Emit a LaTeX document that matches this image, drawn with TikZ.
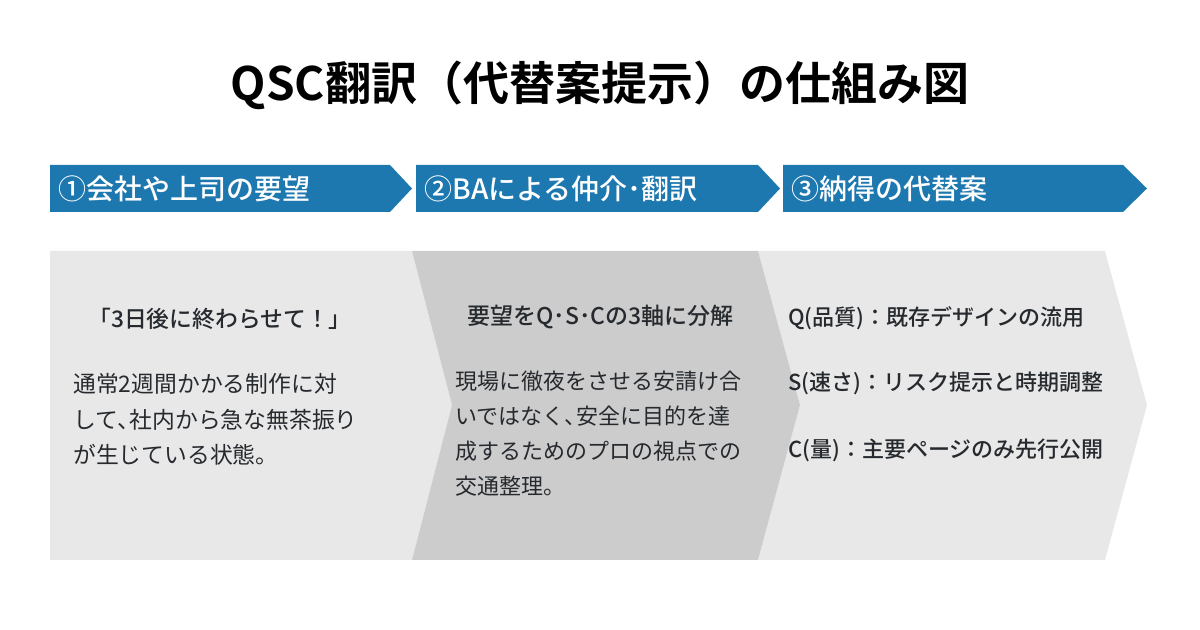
\documentclass[tikz,border=0pt]{standalone}
\usepackage{fontspec}
\usepackage{tikz}
\usetikzlibrary{calc,math}
\newfontfamily\jp{Noto Sans CJK JP}
\newfontfamily\jpmed{Noto Sans CJK JP Medium}
\newfontfamily\jpbold{Noto Sans CJK JP Bold}
\definecolor{stepblue}{RGB}{30,120,176}
\definecolor{panellight}{RGB}{232,232,232}
\definecolor{paneldark}{RGB}{204,204,204}
\definecolor{txtdark}{RGB}{38,42,46}
%narrow comma
\newcommand{\tcomma}{、\hspace{-0.45em}}

\begin{document}
\begin{tikzpicture}
[x=0.5pt,y=-0.5pt,
head/.style={anchor=west,inner sep=0pt,text=white,font=\jpmed\fontsize{14}{16}\selectfont},
lead/.style={anchor=west,inner sep=0pt,text=txtdark,font=\jpmed\fontsize{11}{13}\selectfont},
body/.style={anchor=north west,inner sep=0pt,align=left,text=txtdark,font=\jp\fontsize{11}{17.5}\selectfont},]

\useasboundingbox (0,0) rectangle (1200,630);

%Header arrow: top, bottom, middle of the tips
\tikzmath{\hdtop = 165; \hdbot = 212; \hdmid = 188.5; }
%Panels: top, bottom, middle
\tikzmath{\pntop = 251; \pnbot = 560; \pnmid = 405; }

%Title
\node (title) at (600,85)[inner sep=0pt,font=\jpbold\fontsize{23}{28}\selectfont] {QSC翻訳（代替案提示）の仕組み図};

%Header arrows
\fill[stepblue] (50,\hdtop) -- (390,\hdtop) -- (412,\hdmid) -- (390,\hdbot) -- (50,\hdbot) -- cycle;
\fill[stepblue] (416,\hdtop) -- (758,\hdtop) -- (780,\hdmid) -- (758,\hdbot) -- (416,\hdbot) -- cycle;
\fill[stepblue] (783,\hdtop) -- (1123,\hdtop) -- (1147,\hdmid) -- (1123,\hdbot) -- (783,\hdbot) -- cycle;
\node (h1) at (58,\hdmid)[head] {①会社や上司の要望};
\node (h2) at (424,\hdmid)[head] {②BAによる仲介･翻訳};
\node (h3) at (791,\hdmid)[head] {③納得の代替案};

%Chevron panels
\fill[panellight] (50,\pntop) -- (412,\pntop) -- (452,\pnmid) -- (412,\pnbot) -- (50,\pnbot) -- cycle;
\fill[panellight] (758,\pntop) -- (1105,\pntop) -- (1147,\pnmid) -- (1105,\pnbot) -- (758,\pnbot) -- (800,\pnmid) -- cycle;
\fill[paneldark] (412,\pntop) -- (758,\pntop) -- (800,\pnmid) -- (758,\pnbot) -- (412,\pnbot) -- (452,\pnmid) -- cycle;

%Panel 1
\node (ask) at (88,319)[lead,font=\jpmed\fontsize{11.4}{13}\selectfont] {「3日後に終わらせて！」};
\node (askbody) at (73,373)[body,font=\jp\fontsize{11.4}{17.8}\selectfont] {通常2週間かかる制作に対\\して\tcomma 社内から急な無茶振り\\が生じている状態。};

%Panel 2
\node (split) at (467,317)[lead,font=\jpmed\fontsize{11.5}{13}\selectfont] {要望をQ･S･Cの3軸に分解};
\node (splitbody) at (455,371)[body] {現場に徹夜をさせる安請け合\\いではなく\tcomma 安全に目的を達\\成するためのプロの視点での\\交通整理。};

%Panel 3
\node (q) at (788,318)[lead] {Q(品質)：既存デザインの流用};
\node (s) at (788,383)[lead] {S(速さ)：リスク提示と時期調整};
\node (c) at (788,450)[lead] {C(量)：主要ページのみ先行公開};

\end{tikzpicture}
\end{document}
